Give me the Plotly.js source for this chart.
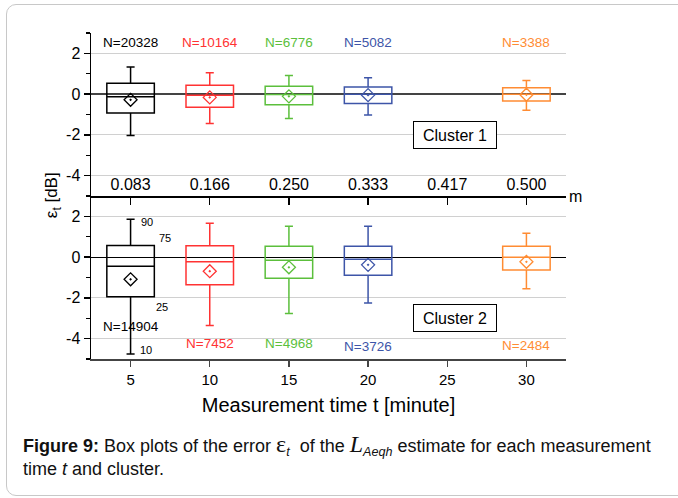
<!DOCTYPE html>
<html>
<head>
<meta charset="utf-8">
<script src="https://cdn.plot.ly/plotly-3.0.1.min.js"></script>
<style>
  html, body { margin: 0; padding: 0; background: #fff; }
  #wrap { position: relative; width: 678px; height: 498px; overflow: hidden; }
  #chart { width: 678px; height: 498px; }
  #frame { position: absolute; left: 6px; top: 4px; width: 720px; height: 490px;
           border: 1px solid #c8c8c8; border-radius: 10px; pointer-events: none; }
</style>
</head>
<body>
<div id="wrap"><div id="chart"></div><div id="frame"></div></div>
<script>
// ---- data ----
const times = [5, 10, 15, 20, 30];
const axisTicks = [5, 10, 15, 20, 25, 30];
const hourLabels = ['0.083', '0.166', '0.250', '0.333', '0.417', '0.500'];
const yTickVals = [-4, -2, 0, 2];
const yTickText = ['-4', '-2', '0', '2'];
const colors = ['#000000', '#ff3333', '#5cbf3c', '#3d55a8', '#ff8c33'];

// Cluster 1
const c1Q1 = [-0.93, -0.65, -0.52, -0.46, -0.34];
const c1Med = [-0.13, -0.05, -0.02, -0.01, 0.0];
const c1Q3 = [0.53, 0.44, 0.39, 0.35, 0.31];
const c1Lo = [-2.03, -1.44, -1.20, -1.03, -0.79];
const c1Hi = [1.33, 1.05, 0.92, 0.80, 0.67];
const c1Mean = [-0.28, -0.16, -0.11, -0.05, -0.03];
const c1N = ['N=20328', 'N=10164', 'N=6776', 'N=5082', 'N=3388'];

// Cluster 2
const c2Q1 = [-1.95, -1.36, -1.04, -0.89, -0.63];
const c2Med = [-0.45, -0.23, -0.15, -0.10, -0.01];
const c2Q3 = [0.57, 0.56, 0.53, 0.53, 0.53];
const c2Lo = [-4.75, -3.35, -2.77, -2.25, -1.55];
const c2Hi = [1.86, 1.66, 1.52, 1.52, 1.17];
const c2Mean = [-1.09, -0.69, -0.50, -0.38, -0.23];
const c2N = ['N=14904', 'N=7452', 'N=4968', 'N=3726', 'N=2484'];

// percentile labels for first box of cluster 2
const pctLabels = ['90', '75', '25', '10'];
const pctX = [6.05, 7.15, 7.0, 5.95];
const pctY = [1.7, 0.96, -2.46, -4.54];

const FONT = 'Liberation Sans, Arial, sans-serif';

const traces = [];
function addCluster(q1, med, q3, lo, hi, mean, xa, ya) {
  times.forEach((t, i) => {
    traces.push({
      type: 'box', x: [t], q1: [q1[i]], median: [med[i]], q3: [q3[i]],
      lowerfence: [lo[i]], upperfence: [hi[i]],
      width: 3, whiskerwidth: 0.17, boxpoints: false,
      line: { color: colors[i], width: 1.5 },
      fillcolor: 'rgba(0,0,0,0)',
      xaxis: xa, yaxis: ya, showlegend: false, hoverinfo: 'skip'
    });
  });
  traces.push({
    type: 'scatter', mode: 'markers', x: times, y: mean,
    marker: { symbol: 'diamond-open-dot', size: 10, color: colors, line: { width: 1.3, color: colors } },
    xaxis: xa, yaxis: ya, showlegend: false, hoverinfo: 'skip'
  });
}
addCluster(c1Q1, c1Med, c1Q3, c1Lo, c1Hi, c1Mean, 'x2', 'y');
addCluster(c2Q1, c2Med, c2Q3, c2Lo, c2Hi, c2Mean, 'x', 'y2');

const annotations = [];
times.forEach((t, i) => {
  annotations.push({ x: t, y: 2.54, xref: 'x2', yref: 'y', text: c1N[i], showarrow: false,
    font: { family: FONT, size: 13.5, color: colors[i] } });
});
const c2NY = [-3.4, -4.26, -4.26, -4.38, -4.36];
times.forEach((t, i) => {
  annotations.push({ x: t, y: c2NY[i], xref: 'x', yref: 'y2', text: c2N[i], showarrow: false,
    font: { family: FONT, size: 13.5, color: colors[i] } });
});
pctLabels.forEach((p, i) => {
  annotations.push({ x: pctX[i], y: pctY[i], xref: 'x', yref: 'y2', text: p, showarrow: false,
    font: { family: FONT, size: 11, color: '#000' } });
});
annotations.push({ x: 25.5, y: -2.01, xref: 'x2', yref: 'y', text: 'Cluster 1', showarrow: false,
  font: { family: FONT, size: 16, color: '#000' }, bordercolor: '#000', borderwidth: 1,
  borderpad: 4, width: 74, height: 18, bgcolor: '#fff' });
annotations.push({ x: 25.5, y: -3.0, xref: 'x', yref: 'y2', text: 'Cluster 2', showarrow: false,
  font: { family: FONT, size: 16, color: '#000' }, bordercolor: '#000', borderwidth: 1,
  borderpad: 4, width: 74, height: 18, bgcolor: '#fff' });
annotations.push({ x: 1.0, y: 0.497, xref: 'paper', yref: 'paper', xanchor: 'left', xshift: 1, text: 'm', showarrow: false,
  font: { family: FONT, size: 16, color: '#000' } });
annotations.push({ x: -0.107, y: 0.503, xref: 'paper', yref: 'paper', text: 'ε<sub>t</sub> [dB]',
  textangle: -90, showarrow: false, font: { family: FONT, size: 17, color: '#000' } });
// caption
annotations.push({ x: -0.147, y: -0.2638, xref: 'paper', yref: 'paper', xanchor: 'left', yanchor: 'middle',
  align: 'left', showarrow: false, font: { family: FONT, size: 18, color: '#111' },
  text: '<b>Figure 9:</b> Box plots of the error <span style="font-family:Liberation Serif;font-size:24px">ε</span><sub><i>t</i></sub>  of the <span style="font-family:Liberation Serif;font-size:24px"><i>L</i></span><sub><i>Aeqh</i></sub> estimate for each measurement' });
annotations.push({ x: -0.147, y: -0.3374, xref: 'paper', yref: 'paper', xanchor: 'left', yanchor: 'middle',
  align: 'left', showarrow: false, font: { family: FONT, size: 18, color: '#111' },
  text: 'time <i>t</i> and cluster.' });

const yCommon = {
  range: [-5, 3], tickvals: yTickVals, ticktext: yTickText, ticks: 'outside', ticklen: 6, tickwidth: 1.3, tickcolor: '#000',
  minor: { dtick: 1, tick0: 0, ticks: 'outside', ticklen: 3.5, tickcolor: '#000', showgrid: false },
  showgrid: true, gridcolor: '#d0d0d0', gridwidth: 1,
  showline: true, linecolor: '#000', linewidth: 1.5,
  tickfont: { family: FONT, size: 16, color: '#000' }, fixedrange: true
};

const layout = {
  width: 678, height: 498,
  margin: { l: 91, r: 112, t: 33, b: 139 },
  paper_bgcolor: '#fff', plot_bgcolor: '#fff',
  boxmode: 'overlay', showlegend: false,
  xaxis: {
    domain: [0, 1], anchor: 'y2', range: [2.5, 32.5], tickvals: axisTicks,
    showline: true, linecolor: '#444', linewidth: 2, ticks: 'outside', ticklen: 6, tickcolor: '#444', tickwidth: 1.3,
    showgrid: false, zeroline: false, tickfont: { family: FONT, size: 15, color: '#000' },
    title: { text: 'Measurement time t [minute]', font: { family: FONT, size: 20, color: '#000' }, standoff: 11 }
  },
  xaxis2: {
    domain: [0, 1], anchor: 'y', matches: 'x', range: [2.5, 32.5], tickvals: axisTicks, ticktext: hourLabels,
    ticklabelposition: 'inside', ticklabelstandoff: 3, showline: true, linecolor: '#000', linewidth: 1.5,
    ticks: 'outside', ticklen: 7, tickcolor: '#000', tickwidth: 1.3,
    showgrid: false, zeroline: false, tickfont: { family: FONT, size: 16, color: '#000' }
  },
  yaxis: Object.assign({}, yCommon, { domain: [0.5, 1], anchor: 'x2', zeroline: true, zerolinecolor: '#444', zerolinewidth: 2 }),
  yaxis2: Object.assign({}, yCommon, { domain: [0, 0.5], anchor: 'x', zeroline: true, zerolinecolor: '#000', zerolinewidth: 1.2 }),
  annotations: annotations
};

Plotly.newPlot('chart', traces, layout, { staticPlot: true, displayModeBar: false });
</script>
</body>
</html>
